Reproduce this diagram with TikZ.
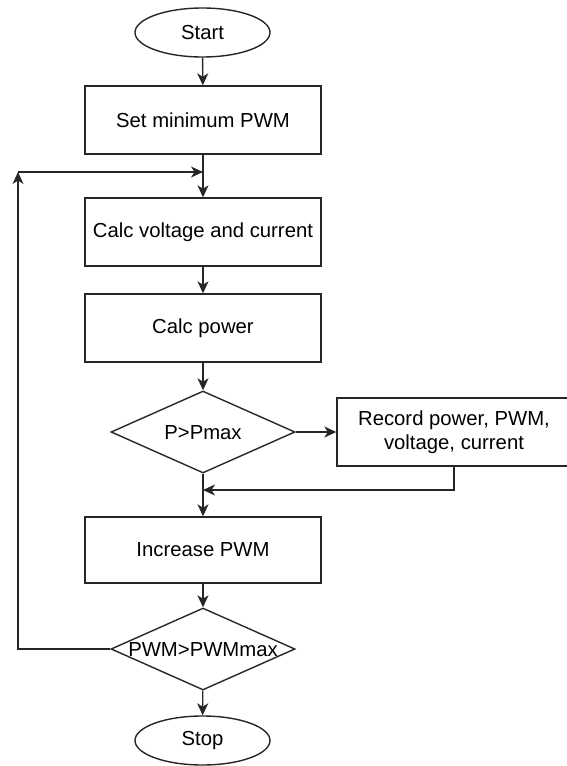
\documentclass[tikz,border=0pt]{standalone}
\usepackage{fontspec}
\setmainfont{Liberation Sans}
\usetikzlibrary{shapes.geometric,arrows.meta}
\tikzset{
  every node/.style={font=\fontsize{20.3}{24}\selectfont, text=black},
  ln/.style={line width=1.4pt, draw=black!85},
  arr/.style={ln, -{Stealth[length=12pt,width=11pt,inset=3.5pt]}},
  procbox/.style={rectangle, draw=black!85, line width=1.4pt, minimum width=236pt, minimum height=68pt, inner sep=0pt, align=center},
  term/.style={ellipse, draw=black!85, line width=1.4pt, minimum width=135pt, minimum height=49pt, inner sep=0pt},
  dia/.style={diamond, draw=black!85, line width=1.4pt, minimum width=184pt, minimum height=82pt, inner sep=0pt}
}
\newcommand{\dtext}[1]{\makebox[0pt]{\raisebox{-0.36em}[0pt][0pt]{#1}}}
\begin{document}
\begin{tikzpicture}[x=1pt,y=-1pt]
\clip (0,0) rectangle (567,766);
\useasboundingbox (0,0) rectangle (567,766);
\node[term] (start) at (202.5,32.5) {Start};
\node[procbox] (b1) at (203,120) {Set minimum PWM};
\node[procbox] (b2) at (203,232) {Calc voltage and current};
\node[procbox] (b3) at (203,328) {Calc power};
\node[dia] (d1) at (203,432) {\dtext{P>Pmax}};
\node[procbox, minimum width=234pt] (rec) at (454,432) {Record power, PWM,\\voltage, current};
\node[procbox, minimum height=66pt] (b4) at (203,550) {Increase PWM};
\node[dia] (d2) at (203,649) {\dtext{PWM>PWMmax}};
\node[term] (stop) at (202.5,740.5) {Stop};
\coordinate (lc) at (18,172);
\coordinate (jn) at (203,172);
\coordinate (mg) at (203,490);
\draw[arr] (start) -- (b1);
\draw[arr] (b1) -- (b2);
\draw[arr] (b2) -- (b3);
\draw[arr] (b3) -- (d1);
\draw[arr] (d1) -- (rec);
\draw[arr] (rec.south) |- (mg);
\draw[arr] (d1) -- (b4);
\draw[arr] (b4) -- (d2);
\draw[arr] (d2) -- (stop);
\draw[arr] (d2.west) -| (lc);
\draw[arr] (lc) -- (jn);
\end{tikzpicture}
\end{document}
